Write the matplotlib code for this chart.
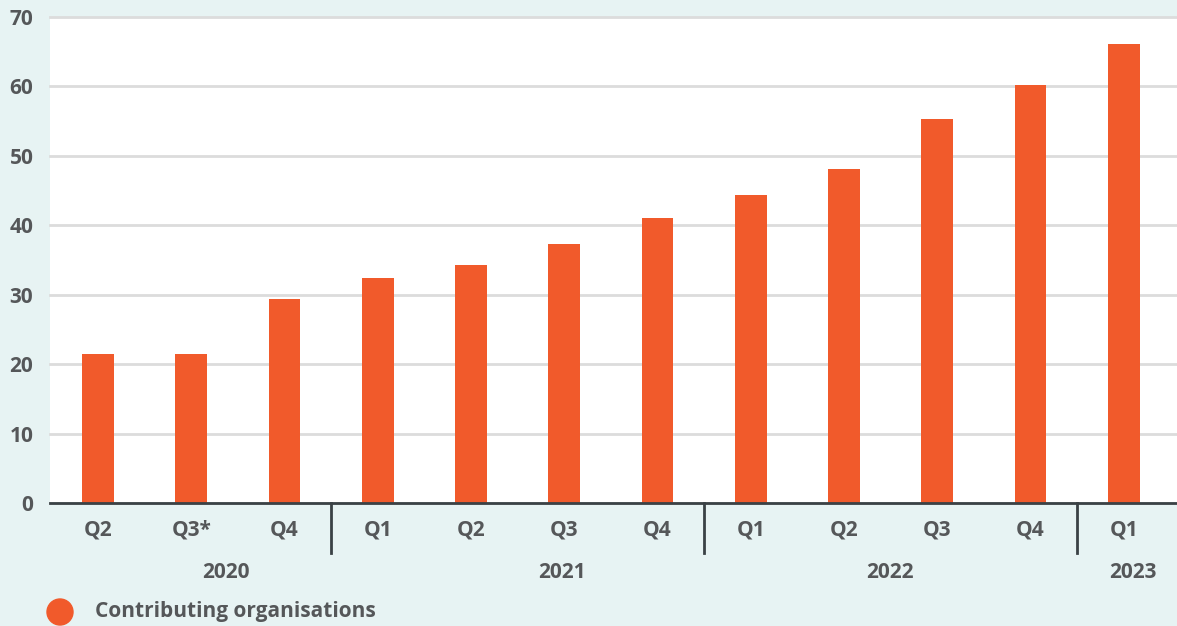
import matplotlib.pyplot as plt
from matplotlib.lines import Line2D
from matplotlib.patches import Ellipse

quarters = ['Q2', 'Q3*', 'Q4', 'Q1', 'Q2', 'Q3', 'Q4', 'Q1', 'Q2', 'Q3', 'Q4', 'Q1']
values = [21.5, 21.5, 29.4, 32.4, 34.3, 37.3, 41.1, 44.4, 48.1, 55.3, 60.2, 66.1]
years = ['2020', '2021', '2022', '2023']
year_pos = [1.37, 4.98, 8.49, 11.1]
separators = [2.5, 6.5, 10.5]

bg = '#e7f3f3'
orange = '#f15a2b'
txt = '#555759'

plt.rcParams['font.family'] = ['Open Sans', 'DejaVu Sans']
fs = 15

fig = plt.figure(figsize=(11.77, 6.26), dpi=100, facecolor=bg)
ax = fig.add_axes([0.0425, 0.1965, 0.9575, 0.7763])
ax.set_facecolor('white')

x = range(len(values))
ax.bar(x, values, width=0.34, color=orange, zorder=3)

ax.set_xlim(-0.515, 11.57)
ax.set_ylim(0, 70)
ax.set_yticks(range(0, 71, 10))
ax.grid(axis='y', color='#dcdcdc', linewidth=2, zorder=0)
for gl in ax.get_ygridlines():
    gl.set_clip_on(False)
for s in ['top', 'right', 'left']:
    ax.spines[s].set_visible(False)
ax.spines['bottom'].set_color('#3a4145')
ax.spines['bottom'].set_linewidth(2)
ax.spines['bottom'].set_zorder(4)

ax.tick_params(axis='y', length=0, pad=12, labelsize=fs, labelcolor=txt)
ax.set_xticks(list(x))
ax.set_xticklabels(quarters)
ax.tick_params(axis='x', length=0, pad=12, labelsize=fs, labelcolor=txt)
for lab in ax.get_xticklabels() + ax.get_yticklabels():
    lab.set_fontweight('bold')

for sx in separators:
    ax.add_line(Line2D([sx, sx], [0, -7.2], color='#3a4145', linewidth=2,
                       clip_on=False, zorder=4))

for yr, p in zip(years, year_pos):
    ax.text(p, -10.0, yr, ha='center', va='center', fontsize=fs,
            fontweight='bold', color=txt)

fig.patches.append(Ellipse((60 / 1177, 14 / 626), 26 / 1177, 26 / 626,
                           transform=fig.transFigure, color=orange))
fig.text(95 / 1177, 14 / 626, 'Contributing organisations', ha='left',
         va='center', fontsize=fs, fontweight='bold', color=txt)

fig.savefig('out.png', dpi=100, facecolor=bg)
